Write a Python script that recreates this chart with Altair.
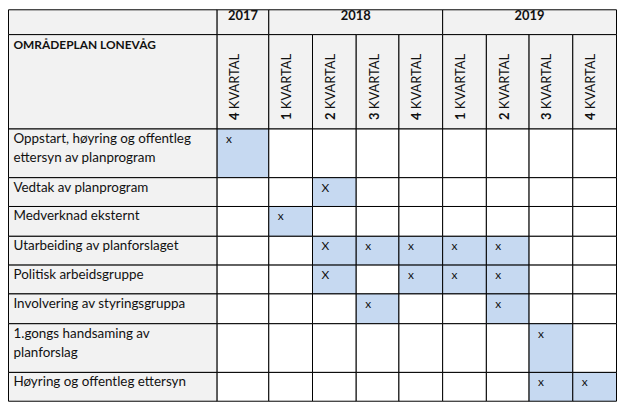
import altair as alt
import pandas as pd

# ---------------- data ----------------
plan_title = "OMRÅDEPLAN LONEVÅG"
activities = [
    ["Oppstart, høyring og offentleg", "ettersyn av planprogram"],
    ["Vedtak av planprogram"],
    ["Medverknad eksternt"],
    ["Utarbeiding av planforslaget"],
    ["Politisk arbeidsgruppe"],
    ["Involvering av styringsgruppa"],
    ["1.gongs handsaming av", "planforslag"],
    ["Høyring og offentleg ettersyn"],
]
years = ["2017", "2018", "2019"]
quarter_year = ["2017", "2018", "2018", "2018", "2018", "2019", "2019", "2019", "2019"]
quarter_num = ["4", "1", "2", "3", "4", "1", "2", "3", "4"]
quarter_word = "KVARTAL"
marks = [
    ["x", "", "", "", "", "", "", "", ""],
    ["", "", "X", "", "", "", "", "", ""],
    ["", "x", "", "", "", "", "", "", ""],
    ["", "", "X", "x", "x", "x", "x", "", ""],
    ["", "", "X", "", "x", "x", "x", "", ""],
    ["", "", "", "x", "", "", "x", "", ""],
    ["", "", "", "", "", "", "", "x", ""],
    ["", "", "", "", "", "", "", "x", "x"],
]

# ---------------- layout (styles) ----------------
W, H = 612, 394
LABEL_W, FIRST_W, Q_W = 210, 52, 43.75
HEAD1_H, HEAD2_H = 25, 95
FONT = "Lato"
GRAY, BLUE, WHITE = "#f2f2f2", "#c6d9f1", "#ffffff"

col_edges = [0, LABEL_W, LABEL_W + FIRST_W]
for i in range(1, len(quarter_num)):
    col_edges.append(LABEL_W + FIRST_W + i * Q_W)
col_edges = [round(c) for c in col_edges]

row_edges = [0, HEAD1_H, HEAD1_H + HEAD2_H]
acc = HEAD1_H + HEAD2_H
for lines in activities:
    acc += 9.67 + 19.67 * len(lines)
    row_edges.append(acc)
row_edges = [round(r) for r in row_edges]

cells = []
# header row 1: label + years
cells.append(dict(x=0, x2=LABEL_W, y=0, y2=HEAD1_H, kind="head"))
for yr in years:
    idx = [i for i, q in enumerate(quarter_year) if q == yr]
    cells.append(dict(x=col_edges[idx[0] + 1], x2=col_edges[idx[-1] + 2], y=0, y2=HEAD1_H, kind="head"))
# header row 2
cells.append(dict(x=0, x2=LABEL_W, y=HEAD1_H, y2=row_edges[2], kind="head"))
for qi in range(len(quarter_num)):
    cells.append(dict(x=col_edges[qi + 1], x2=col_edges[qi + 2], y=HEAD1_H, y2=row_edges[2], kind="head"))
# body
for ri, row in enumerate(marks):
    y0, y1 = row_edges[ri + 2], row_edges[ri + 3]
    cells.append(dict(x=0, x2=LABEL_W, y=y0, y2=y1, kind="head"))
    for qi, m in enumerate(row):
        cells.append(dict(x=col_edges[qi + 1], x2=col_edges[qi + 2], y=y0, y2=y1,
                          kind="mark" if m else "empty"))
cells = pd.DataFrame(cells)

label_rows = []
for ri, lines in enumerate(activities):
    for li, t in enumerate(lines):
        label_rows.append(dict(x=5, y=row_edges[ri + 2] + 14 + li * 19, text=t))
label_df = pd.DataFrame(label_rows)

year_rows = []
for yr in years:
    idx = [i for i, q in enumerate(quarter_year) if q == yr]
    year_rows.append(dict(x=(col_edges[idx[0] + 1] + col_edges[idx[-1] + 2]) / 2, y=10.5, text=yr))
year_df = pd.DataFrame(year_rows)

qnum_df = pd.DataFrame([dict(x=col_edges[i + 1] + 22.5, y=111, text=n) for i, n in enumerate(quarter_num)])
qword_df = pd.DataFrame([dict(x=col_edges[i + 1] + 22.5, y=100, text=quarter_word) for i in range(len(quarter_num))])
title_df = pd.DataFrame([dict(x=5, y=39, text=plan_title)])

mark_rows = []
for ri, row in enumerate(marks):
    for qi, m in enumerate(row):
        if m:
            mark_rows.append(dict(x=col_edges[qi + 1] + 9, y=row_edges[ri + 2] + 14, text=m))
mark_df = pd.DataFrame(mark_rows)

xs = alt.Scale(domain=[-0.5, W - 0.5], range=[0, W], nice=False, zero=False)
ys = alt.Scale(domain=[-0.5, H - 0.5], nice=False, zero=False, reverse=True)

rects = alt.Chart(cells).mark_rect(stroke="#000000", strokeWidth=1).encode(
    x=alt.X("x:Q", scale=xs, axis=None),
    x2="x2:Q",
    y=alt.Y("y:Q", scale=ys, axis=None),
    y2="y2:Q",
    fill=alt.Fill("kind:N", scale=alt.Scale(domain=["head", "empty", "mark"], range=[GRAY, WHITE, BLUE]), legend=None),
)


def txt(df, **kw):
    return alt.Chart(df).mark_text(font=FONT, color="#111111", baseline="alphabetic", **kw).encode(
        x=alt.X("x:Q", scale=xs, axis=None),
        y=alt.Y("y:Q", scale=ys, axis=None),
        text="text:N",
    )


chart = alt.layer(
    rects,
    txt(label_df, align="left", fontSize=13.5),
    txt(title_df, align="left", fontSize=12, fontWeight="bold"),
    txt(year_df, align="center", fontSize=13, fontWeight="bold"),
    txt(qnum_df, align="left", fontSize=13, fontWeight="bold", angle=270),
    txt(qword_df, align="left", fontSize=13, angle=270),
    txt(mark_df, align="left", fontSize=12),
).properties(
    width=W, height=H,
    padding={"left": 0, "top": 0, "right": 2, "bottom": 2},
    autosize=alt.AutoSizeParams(type="none"),
    background="white",
).configure_view(stroke=None)

chart.save("out.html", embed_options={"renderer": "svg", "actions": False})
